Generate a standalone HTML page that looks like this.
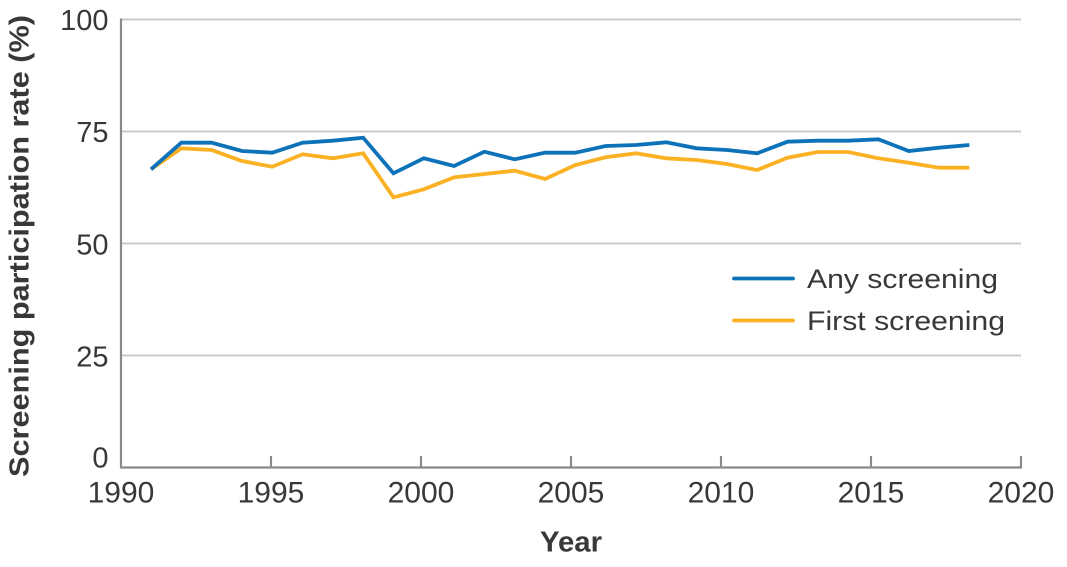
<!DOCTYPE html>
<html><head><meta charset="utf-8"><style>
html,body{margin:0;padding:0;background:#fff;}
svg{display:block;}
text{font-family:"Liberation Sans",sans-serif;fill:#383838;}
</style></head><body>
<svg width="1067" height="567" viewBox="0 0 1067 567" xmlns="http://www.w3.org/2000/svg">
<!-- gridlines -->
<g stroke="#c4c4c4" stroke-width="1.8">
<line x1="121" y1="19.5" x2="1021" y2="19.5"/>
<line x1="121" y1="131.5" x2="1021" y2="131.5"/>
<line x1="121" y1="243.5" x2="1021" y2="243.5"/>
<line x1="121" y1="355.5" x2="1021" y2="355.5"/>
</g>
<!-- axes -->
<g stroke="#8a8a8a" stroke-width="2.2" fill="none">
<line x1="121" y1="18.5" x2="121" y2="468.5"/>
<line x1="120" y1="467.5" x2="1022" y2="467.5"/>
<line x1="271" y1="456" x2="271" y2="467"/>
<line x1="421" y1="456" x2="421" y2="467"/>
<line x1="571" y1="456" x2="571" y2="467"/>
<line x1="721" y1="456" x2="721" y2="467"/>
<line x1="871" y1="456" x2="871" y2="467"/>
<line x1="1021" y1="456" x2="1021" y2="467"/>
</g>
<!-- y tick labels -->
<g font-size="29" text-anchor="end">
<text x="108.5" y="30">100</text>
<text x="108.5" y="142">75</text>
<text x="108.5" y="254.5">50</text>
<text x="108.5" y="366.5">25</text>
<text x="108.5" y="467.5">0</text>
</g>
<!-- x tick labels -->
<g font-size="30" text-anchor="middle">
<text x="121" y="502.5">1990</text>
<text x="271" y="502.5">1995</text>
<text x="421" y="502.5">2000</text>
<text x="571" y="502.5">2005</text>
<text x="721" y="502.5">2010</text>
<text x="871" y="502.5">2015</text>
<text x="1021" y="502.5">2020</text>
</g>
<!-- axis titles -->
<text x="571" y="551.5" font-size="29" font-weight="bold" text-anchor="middle" textLength="62" lengthAdjust="spacingAndGlyphs">Year</text>
<text transform="translate(28.5,246) rotate(-90)" x="0" y="0" font-size="28" font-weight="bold" text-anchor="middle" textLength="462" lengthAdjust="spacingAndGlyphs">Screening participation rate (%)</text>
<!-- series -->
<polyline fill="none" stroke="#fbb124" stroke-width="3.8" stroke-linejoin="miter" points="151,169.3 181.31,148.3 211.62,150 241.93,161 272.24,166.7 302.55,154.3 332.86,158.3 363.17,153.3 393.48,197.3 423.79,189.3 454.1,177.3 484.41,174 514.72,170.7 545.03,179 575.34,165 605.65,157.3 635.96,153.3 666.27,158.3 696.58,160 726.89,164 757.2,170 787.51,157.7 817.82,152 848.13,152 878.44,158.3 908.75,162.7 939.06,167.7 969.37,167.7"/>
<polyline fill="none" stroke="#0e72b8" stroke-width="3.8" stroke-linejoin="miter" points="151,169.3 181.31,142.7 211.62,142.7 241.93,151 272.24,152.7 302.55,142.7 332.86,140.7 363.17,137.7 393.48,173.3 423.79,158.3 454.1,166 484.41,151.7 514.72,159.3 545.03,152.7 575.34,152.7 605.65,146 635.96,145 666.27,142.3 696.58,148.3 726.89,150 757.2,153.3 787.51,141.7 817.82,140.7 848.13,140.7 878.44,139.3 908.75,151 939.06,147.7 969.37,145"/>
<!-- legend -->
<line x1="734" y1="278.5" x2="793" y2="278.5" stroke="#0e72b8" stroke-width="3.8" stroke-linecap="round"/>
<line x1="734" y1="320.5" x2="793" y2="320.5" stroke="#fbb124" stroke-width="3.8" stroke-linecap="round"/>
<text x="807" y="288" font-size="27" textLength="191" lengthAdjust="spacingAndGlyphs">Any screening</text>
<text x="807" y="330" font-size="27" textLength="198" lengthAdjust="spacingAndGlyphs">First screening</text>
</svg>
</body></html>
